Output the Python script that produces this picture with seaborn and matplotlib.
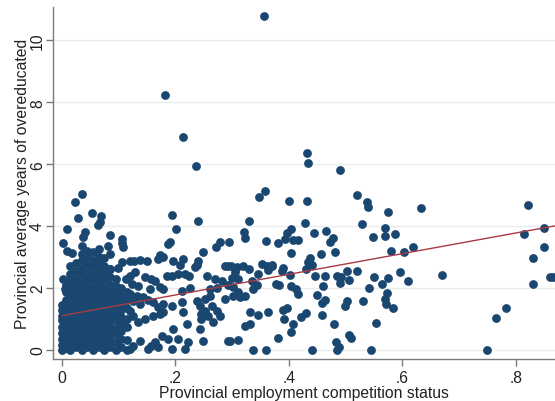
import numpy as np
import pandas as pd
import matplotlib
matplotlib.use("Agg")
import matplotlib.pyplot as plt
import seaborn as sns

# Scattered provinces (competition status, avg years overeducated)
sparse_x = [0.356, 0.182, 0.213, 0.236, 0.036, 0.358, 0.348, 0.431, 0.434, 0.490,
            0.520, 0.400, 0.432, 0.538, 0.540, 0.633, 0.821, 0.575, 0.429, 0.529,
            0.570, 0.404, 0.397, 0.444, 0.465, 0.586, 0.570, 0.548, 0.393, 0.408,
            0.416, 0.477, 0.472, 0.381, 0.619, 0.814, 0.849, 0.850, 0.603, 0.580,
            0.403, 0.482, 0.456, 0.830, 0.438, 0.434, 0.371, 0.390, 0.441, 0.430,
            0.387, 0.402, 0.503, 0.520, 0.596, 0.446, 0.463, 0.484, 0.491, 0.506,
            0.549, 0.575, 0.669, 0.610, 0.490, 0.377, 0.382, 0.403, 0.460, 0.564,
            0.541, 0.413, 0.829, 0.860, 0.865, 0.416, 0.449, 0.572, 0.464, 0.458,
            0.530, 0.503, 0.570, 0.571, 0.498, 0.583, 0.396, 0.389, 0.783, 0.430,
            0.458, 0.421, 0.391, 0.765, 0.553, 0.408, 0.480, 0.404, 0.506, 0.509,
            0.381, 0.483, 0.489, 0.440, 0.485, 0.545, 0.748,
            0.330, 0.321, 0.323, 0.360, 0.295, 0.288, 0.298, 0.308, 0.320, 0.329,
            0.305, 0.352, 0.361, 0.370, 0.346, 0.363, 0.299, 0.311, 0.293, 0.302,
            0.335, 0.343, 0.337, 0.311, 0.288, 0.302, 0.314, 0.323, 0.332, 0.346,
            0.364, 0.323, 0.332, 0.296, 0.311, 0.336, 0.360,
            0.195, 0.240, 0.202, 0.191, 0.188, 0.279, 0.272, 0.249, 0.120, 0.127,
            0.138, 0.150, 0.173, 0.170, 0.179, 0.196, 0.214, 0.208, 0.240, 0.238,
            0.235, 0.293, 0.129, 0.120, 0.147, 0.158, 0.164, 0.185, 0.194, 0.205,
            0.217, 0.225, 0.255, 0.270, 0.283, 0.123, 0.135, 0.155, 0.173, 0.179,
            0.211, 0.226, 0.261, 0.274, 0.120, 0.132, 0.144, 0.126, 0.138, 0.152,
            0.161, 0.170, 0.179, 0.194, 0.211, 0.238, 0.243, 0.252, 0.261, 0.252,
            0.246, 0.264, 0.273, 0.258, 0.279, 0.267, 0.246, 0.120, 0.126, 0.135,
            0.147, 0.161, 0.173, 0.179, 0.214, 0.220, 0.196, 0.243, 0.138, 0.176,
            0.188, 0.205, 0.223, 0.164, 0.158, 0.152, 0.170, 0.194, 0.217, 0.249,
            0.120, 0.126, 0.293,
            0.023, 0.053, 0.029, 0.070, 0.067, 0.064, 0.009, 0.041, 0.038, 0.085,
            0.003, 0.009, 0.018, 0.035, 0.106, 0.108, 0.082, 0.085, 0.106, 0.100,
            0.085, 0.002, 0.114, 0.006, 0.107]
sparse_y = [10.78, 8.22, 6.88, 5.94, 5.03, 5.14, 4.93, 6.37, 6.04, 5.80,
            5.01, 4.80, 4.80, 4.76, 4.63, 4.59, 4.68, 4.44, 4.10, 4.07,
            3.93, 3.90, 3.78, 3.78, 3.84, 3.75, 3.68, 3.63, 3.58, 3.56,
            3.56, 3.60, 3.47, 3.45, 3.33, 3.75, 3.93, 3.33, 3.15, 3.18,
            3.12, 3.15, 3.08, 2.97, 2.95, 2.84, 2.72, 2.65, 2.74, 2.60,
            2.54, 2.41, 2.54, 2.54, 2.50, 2.38, 2.39, 2.39, 2.34, 2.26,
            2.34, 2.31, 2.41, 2.21, 2.15, 2.11, 2.09, 2.07, 2.07, 2.11,
            2.00, 1.96, 2.11, 2.34, 2.34, 1.79, 1.77, 1.83, 1.60, 1.51,
            1.58, 1.58, 1.64, 1.47, 1.42, 1.35, 1.35, 1.29, 1.35, 1.18,
            1.11, 1.05, 0.99, 1.02, 0.87, 0.82, 0.82, 0.58, 0.48, 0.39,
            0.39, 0.24, 0.08, 0.00, 0.00, 0.00, 0.00,
            4.15, 3.79, 3.60, 3.51, 3.47, 2.72, 2.70, 2.67, 2.70, 2.61,
            2.50, 2.77, 2.70, 2.74, 2.45, 2.59, 2.31, 2.29, 2.09, 2.02,
            2.23, 2.09, 1.96, 1.86, 1.64, 1.73, 1.69, 1.75, 1.21, 1.12,
            1.23, 0.78, 0.83, 0.29, 0.31, 0.00, 0.00,
            4.36, 4.17, 3.90, 3.47, 3.43, 3.47, 3.31, 3.17, 2.88, 2.88,
            2.91, 2.88, 3.06, 2.93, 2.99, 2.88, 2.93, 2.74, 2.88, 2.74,
            2.66, 2.70, 2.50, 2.39, 2.34, 2.29, 2.23, 2.39, 2.37, 2.45,
            2.45, 2.39, 2.39, 2.29, 2.23, 2.12, 2.07, 1.96, 2.02, 1.96,
            1.91, 1.98, 1.96, 1.98, 1.80, 1.75, 1.69, 1.58, 1.48, 1.62,
            1.53, 1.37, 1.48, 1.42, 1.53, 1.58, 1.42, 1.64, 1.75, 1.26,
            1.15, 1.42, 1.26, 1.10, 1.10, 0.88, 0.99, 1.26, 1.10, 0.88,
            0.99, 1.10, 1.15, 1.21, 1.21, 0.83, 0.67, 0.67, 0.29, 0.45,
            0.35, 0.35, 0.26, 0.24, 0.13, 0.02, 0.08, 0.02, 0.02, 0.29,
            0.02, 0.13, 0.29,
            4.76, 4.41, 4.25, 4.33, 4.12, 4.03, 3.90, 3.79, 3.63, 3.71,
            3.45, 3.20, 3.12, 3.36, 3.45, 3.31, 3.36, 3.09, 2.82, 2.63,
            2.61, 2.29, 2.29, 1.96, 3.58]

# Dense cluster of low-competition provinces, one column of y values per x
blob_x = [0.000, 0.007, 0.015, 0.025, 0.035, 0.045, 0.055, 0.065, 0.075, 0.085,
          0.095, 0.105, 0.115]
blob_y = [
    [0.0, 0.15, 0.35, 0.55, 0.75, 0.95, 1.1, 1.3, 1.45],
    [0.05, 0.3, 0.5, 0.7, 0.9, 1.15, 1.4, 1.6, 1.85, 2.1],
    [0.0, 0.2, 0.4, 0.6, 0.8, 1.0, 1.2, 1.4, 1.6, 1.8, 2.0, 2.25, 2.45, 2.7],
    [0.1, 0.3, 0.5, 0.7, 0.9, 1.1, 1.3, 1.5, 1.7, 1.9, 2.1, 2.3, 2.55, 2.8],
    [0.0, 0.2, 0.4, 0.6, 0.8, 1.0, 1.2, 1.4, 1.6, 1.8, 2.0, 2.2, 2.45, 2.65, 2.9, 3.1],
    [0.1, 0.3, 0.5, 0.7, 0.9, 1.1, 1.3, 1.5, 1.7, 1.9, 2.1, 2.3, 2.55, 2.75, 3.0, 3.2],
    [0.0, 0.2, 0.4, 0.6, 0.8, 1.0, 1.2, 1.4, 1.6, 1.8, 2.0, 2.25, 2.45, 2.7, 2.9, 3.15],
    [0.1, 0.3, 0.5, 0.7, 0.9, 1.1, 1.3, 1.5, 1.7, 1.9, 2.1, 2.35, 2.6, 2.8, 3.0, 3.25],
    [0.0, 0.2, 0.4, 0.6, 0.8, 1.0, 1.2, 1.4, 1.6, 1.8, 2.0, 2.25, 2.45, 2.7, 2.95],
    [0.1, 0.3, 0.5, 0.7, 0.9, 1.1, 1.3, 1.5, 1.7, 1.9, 2.1, 2.35, 2.6],
    [0.0, 0.25, 0.5, 0.7, 0.95, 1.15, 1.4, 1.6, 1.85, 2.05, 2.3],
    [0.1, 0.35, 0.6, 0.85, 1.05, 1.3, 1.5, 1.75, 2.0],
    [0.0, 0.3, 0.75, 1.0, 1.35, 1.6, 1.85],
]

# Fitted line
fit_x = [0.0, 0.87]
fit_y = [1.10, 4.01]

x_ticks = [0, 0.2, 0.4, 0.6, 0.8]
x_tick_labels = ["0", ".2", ".4", ".6", ".8"]
y_ticks = [0, 2, 4, 6, 8, 10]

# build the table
bx, by = [], []
for xv, ys in zip(blob_x, blob_y):
    bx.extend([xv] * len(ys))
    by.extend(ys)
df = pd.DataFrame({"comp": sparse_x + bx, "over": sparse_y + by})

sns.set_theme(style="white")
plt.rcParams['font.family'] = ['Liberation Sans', 'DejaVu Sans']

navy = "#1a476f"
fig = plt.figure(figsize=(5.55, 4.02), dpi=100)
ax = fig.add_axes([0.095, 0.1045, 0.905, 0.8755])

sns.scatterplot(data=df, x="comp", y="over", color=navy, s=40,
                linewidth=0, ax=ax, zorder=3)
sns.lineplot(x=fit_x, y=fit_y, color="#a83a44", lw=1.0, ax=ax, zorder=4)

ax.set_xlim(-0.0158, 0.8685)
ax.set_ylim(-0.30, 11.08)
ax.set_xticks(x_ticks)
ax.set_xticklabels(x_tick_labels)
ax.set_yticks(y_ticks)
ax.set_yticklabels([str(v) for v in y_ticks], rotation=90, va="center")

ax.yaxis.grid(True, color="#e9eded", lw=1.0)
ax.set_axisbelow(True)
for s in ["top", "right"]:
    ax.spines[s].set_visible(False)
for s in ["left", "bottom"]:
    ax.spines[s].set_color("#7a7a7a")
    ax.spines[s].set_linewidth(1.0)

ax.tick_params(axis="both", which="major", length=5, width=1, color="#7a7a7a",
               labelsize=11.3, labelcolor="#222222", left=True, bottom=True)
ax.tick_params(axis="x", pad=3)
ax.tick_params(axis="y", pad=0.5)

ax.set_xlabel("Provincial employment competition status", fontsize=11.3,
              color="#222222", labelpad=0)
ax.set_ylabel("Provincial average years of overeducated", fontsize=11.3,
              color="#222222", labelpad=0)

fig.savefig("out.png", dpi=100)
